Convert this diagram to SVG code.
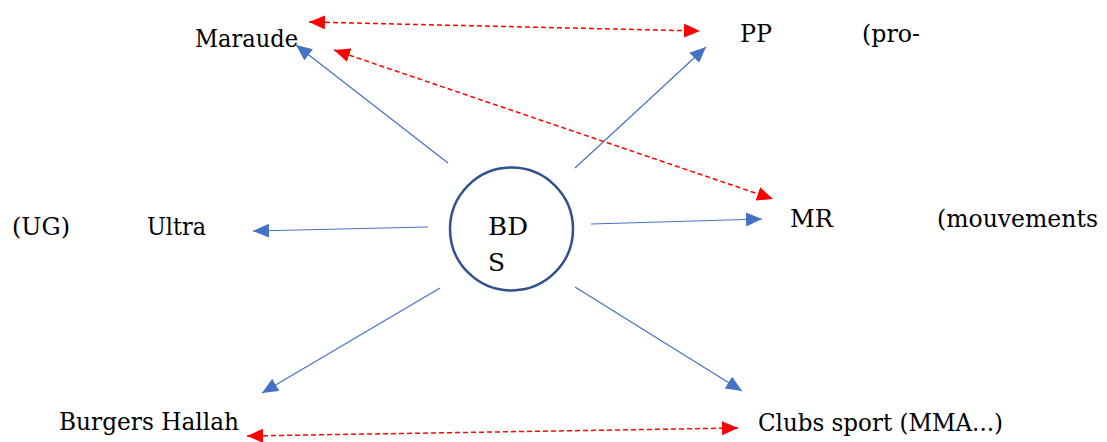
<svg xmlns="http://www.w3.org/2000/svg" width="1107" height="442" viewBox="0 0 1107 442">
<style>
.t{font-family:"DejaVu Serif","Liberation Serif",serif;font-size:25px;fill:#000}
.b{stroke:#4472C4;stroke-width:1.2;fill:none}
.r{stroke:#FF0000;stroke-width:1.5;stroke-dasharray:5 3;fill:none}
</style>
<defs>
<marker id="ab" markerUnits="userSpaceOnUse" markerWidth="17" markerHeight="15" refX="16" refY="7" orient="auto"><path d="M0,0 L16,7 L0,14 Z" fill="#4472C4"/></marker>
<marker id="ar" markerUnits="userSpaceOnUse" markerWidth="17" markerHeight="15" refX="16" refY="7" orient="auto-start-reverse"><path d="M0,0 L16,7 L0,14 Z" fill="#FF0000"/></marker>
</defs>
<g id="connectors">
<line class="b" x1="448" y1="163" x2="296" y2="45" marker-end="url(#ab)"/>
<line class="b" x1="575" y1="168" x2="706" y2="47" marker-end="url(#ab)"/>
<line class="b" x1="428" y1="227" x2="253" y2="231" marker-end="url(#ab)"/>
<line class="b" x1="591" y1="224" x2="762" y2="219" marker-end="url(#ab)"/>
<line class="b" x1="440" y1="288" x2="262" y2="393" marker-end="url(#ab)"/>
<line class="b" x1="575" y1="287" x2="742" y2="391" marker-end="url(#ab)"/>
<line class="r" x1="309" y1="22" x2="700" y2="31" marker-start="url(#ar)" marker-end="url(#ar)"/>
<line class="r" x1="334" y1="50" x2="773" y2="199" marker-start="url(#ar)" marker-end="url(#ar)"/>
<line class="r" x1="247" y1="436" x2="738" y2="428" marker-start="url(#ar)" marker-end="url(#ar)"/>
</g>
<g id="bds">
<circle cx="511.5" cy="229" r="61.5" fill="#fff" stroke="#2F528F" stroke-width="2.5"/>
<text class="t" x="488" y="235" textLength="40" lengthAdjust="spacingAndGlyphs">BD</text>
<text class="t" x="488" y="271" textLength="17" lengthAdjust="spacingAndGlyphs">S</text>
</g>
<g id="maraude"><text class="t" x="195" y="47" textLength="103" lengthAdjust="spacingAndGlyphs">Maraude</text></g>
<g id="pp"><text class="t" x="740" y="42" textLength="32" lengthAdjust="spacingAndGlyphs">PP</text><text class="t" x="862" y="42" textLength="58" lengthAdjust="spacingAndGlyphs">(pro-</text></g>
<g id="ultra"><text class="t" x="12" y="235" textLength="58" lengthAdjust="spacingAndGlyphs">(UG)</text><text class="t" x="147" y="235" textLength="59" lengthAdjust="spacingAndGlyphs">Ultra</text></g>
<g id="mr"><text class="t" x="790" y="227" textLength="43" lengthAdjust="spacingAndGlyphs">MR</text><text class="t" x="937" y="227" textLength="161" lengthAdjust="spacingAndGlyphs">(mouvements</text></g>
<g id="burgers"><text class="t" x="59" y="430" textLength="180" lengthAdjust="spacingAndGlyphs">Burgers Hallah</text></g>
<g id="clubs"><text class="t" x="758" y="431" textLength="245" lengthAdjust="spacingAndGlyphs">Clubs sport (MMA...)</text></g>
</svg>
